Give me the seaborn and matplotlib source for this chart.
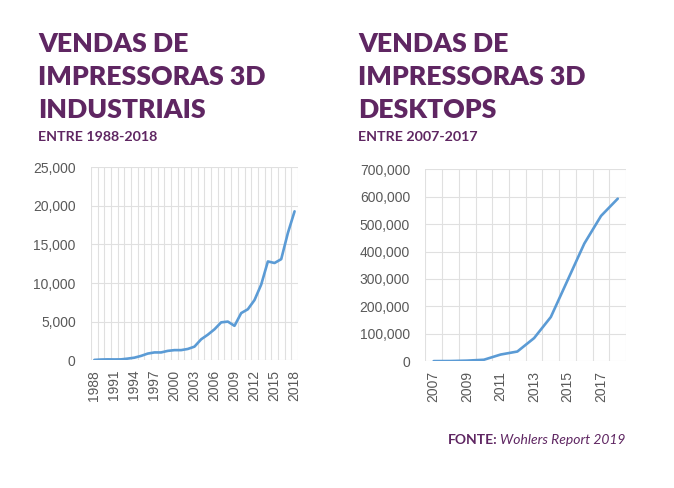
import numpy as np
import pandas as pd
import seaborn as sns
import matplotlib.pyplot as plt
from matplotlib.ticker import FuncFormatter, FixedLocator

# Data
ind_years = list(range(1988, 2019))
ind_sales = [30, 80, 100, 90, 100, 200, 320, 550, 850, 1000, 1000, 1200, 1300, 1300,
             1450, 1750, 2700, 3300, 4000, 4900, 5000, 4450, 6100, 6600, 7800, 9800,
             12800, 12600, 13100, 16500, 19300]

desk_years = list(range(2007, 2019))
desk_sales = [66, 355, 1800, 5000, 24000, 35000, 84000, 161000, 295000, 429000, 530000, 593000]

titles = [['VENDAS DE', 'IMPRESSORAS 3D', 'INDUSTRIAIS'],
          ['VENDAS DE', 'IMPRESSORAS 3D', 'DESKTOPS']]
subtitles = ['ENTRE 1988-2018', 'ENTRE 2007-2017']

purple = '#5f2662'
blue = '#5b9bd5'
gray_txt = '#595959'
grid_col = '#e0e0e0'

sns.set_style('white')
plt.rcParams['font.family'] = ['Lato', 'DejaVu Sans']
tick_font = ['Liberation Sans', 'DejaVu Sans']

fig = plt.figure(figsize=(6.74, 4.88), dpi=100)


def draw(rect, years, sales, step, ymax, ystep):
    ax = fig.add_axes(rect)
    df = pd.DataFrame({'i': np.arange(len(years)), 'v': sales})
    sns.lineplot(data=df, x='i', y='v', ax=ax, color=blue, linewidth=1.9)
    ax.set_xlim(-0.5, len(years) - 0.5)
    ax.set_ylim(0, ymax)
    ax.xaxis.set_major_locator(FixedLocator(list(range(0, len(years), step))))
    ax.set_xticklabels([str(y) for y in years[::step]], rotation=90)
    ax.xaxis.set_minor_locator(FixedLocator(list(np.arange(-0.5, len(years), 1.0))))
    ax.set_yticks(np.arange(0, ymax + 1, ystep))
    ax.yaxis.set_major_formatter(FuncFormatter(lambda v, p: f'{int(v):,}'))
    ax.grid(which='minor', axis='x', color=grid_col, linewidth=0.8)
    ax.grid(which='major', axis='y', color=grid_col, linewidth=0.8)
    ax.grid(which='major', axis='x', visible=False)
    ax.tick_params(which='both', length=0, labelsize=10, colors=gray_txt)
    ax.tick_params(axis='x', pad=7)
    ax.tick_params(axis='y', pad=11)
    for s in ax.spines.values():
        s.set_visible(False)
    ax.set_xlabel('')
    ax.set_ylabel('')
    for t in ax.get_xticklabels() + ax.get_yticklabels():
        t.set_family(tick_font)
    return ax


draw([0.135, 0.262, 0.307, 0.395], ind_years, ind_sales, 3, 25000, 5000)
draw([0.631, 0.260, 0.298, 0.393], desk_years, desk_sales, 2, 700000, 100000)

for x0, lines, sub in zip([38, 358], titles, subtitles):
    for k, line in enumerate(lines):
        fig.text(x0 / 674, 1 - (32 + 33 * k) / 488, line, color=purple, fontsize=19.2,
                 fontweight='heavy', va='top')
    fig.text(x0 / 674, 1 - 131 / 488, sub, color=purple, fontsize=10.3,
             fontweight='bold', va='top')

fig.text(448 / 674, 1 - 440 / 488, 'FONTE:', color=purple, fontsize=10, fontweight='bold', va='center')
fig.text(500 / 674, 1 - 440 / 488, 'Wohlers Report 2019', color=purple, fontsize=10,
         style='italic', va='center')

fig.savefig('out.png', dpi=100)
